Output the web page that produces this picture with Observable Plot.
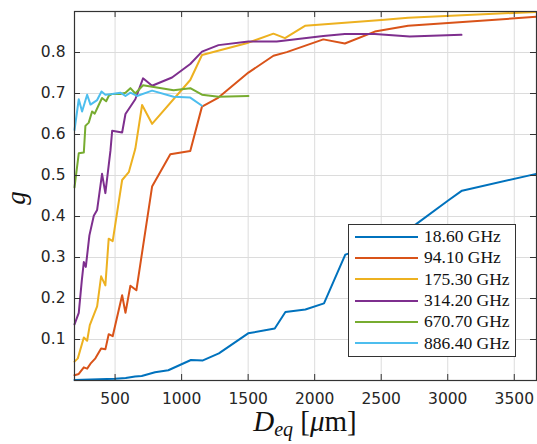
<!DOCTYPE html>
<html><head><meta charset="utf-8">
<script src="https://cdn.jsdelivr.net/npm/d3@7"></script>
<script src="https://cdn.jsdelivr.net/npm/@observablehq/plot@0.6"></script>
<style>
body{margin:0;background:#fff;}
#wrap{position:relative;width:537px;height:444px;}
#legend{position:absolute;left:348px;top:224px;width:168px;height:133px;border:1px solid #333;background:#fff;box-sizing:border-box;padding-top:1px;}
.row{display:flex;align-items:center;height:21.3px;font-family:"Liberation Serif","DejaVu Serif",serif;font-size:17.5px;color:#111;white-space:nowrap;}
.row .ln{width:63px;height:2px;margin-left:6px;margin-right:6px;}
</style></head><body><div id="wrap"><div id="legend"></div></div>
<script>
const seriesNames = ["18.60 GHz","94.10 GHz","175.30 GHz","314.20 GHz","670.70 GHz","886.40 GHz"];
const seriesColors = ["#0072BD","#D95319","#EDB120","#7E2F8E","#77AC30","#4DBEEE"];
const xTicks = [500,1000,1500,2000,2500,3000,3500];
const yTicks = [0.1,0.2,0.3,0.4,0.5,0.6,0.7,0.8];

const d18 = [195,500,580,650,700,800,900,1070,1160,1280,1500,1700,1780,1930,2070,2230,2600,2765,3003,3107,3665];
const g18 = [0.001,0.004,0.006,0.010,0.011,0.020,0.025,0.050,0.049,0.066,0.115,0.127,0.167,0.173,0.188,0.307,0.345,0.382,0.439,0.463,0.504];

const d94 = [195,227,265,290,315,352,395,427,452,482,553,578,615,660,778,915,1065,1153,1277,1502,1690,1790,2065,2227,2452,2702,3665];
const g94 = [0.013,0.016,0.032,0.029,0.041,0.054,0.078,0.076,0.113,0.108,0.208,0.165,0.231,0.220,0.473,0.552,0.560,0.668,0.690,0.751,0.792,0.801,0.832,0.822,0.851,0.865,0.887];

const d175 = [195,220,265,290,310,365,395,427,452,482,553,603,652,703,778,1065,1153,1502,1690,1777,1927,2502,2702,3665];
const g175 = [0.046,0.054,0.105,0.097,0.135,0.181,0.254,0.232,0.346,0.340,0.489,0.508,0.565,0.672,0.626,0.733,0.794,0.824,0.846,0.835,0.865,0.879,0.885,0.899];

const d314 = [195,227,250,265,280,307,340,365,402,427,465,478,553,578,652,710,778,928,1065,1153,1277,1502,1715,2065,2227,2452,2715,3103];
const g314 = [0.137,0.165,0.244,0.289,0.277,0.354,0.402,0.416,0.504,0.457,0.560,0.609,0.605,0.650,0.686,0.737,0.719,0.739,0.772,0.802,0.818,0.827,0.827,0.840,0.845,0.845,0.839,0.843];

const d670 = [195,227,265,277,302,327,347,377,402,433,452,478,540,578,615,652,710,940,1065,1153,1277,1502];
const g670 = [0.471,0.554,0.556,0.621,0.629,0.656,0.651,0.672,0.689,0.681,0.694,0.699,0.699,0.702,0.713,0.700,0.720,0.708,0.713,0.697,0.692,0.694];

const d886 = [195,227,252,290,315,365,398,427,478,540,578,615,665,778,940,1065,1153];
const g886 = [0.611,0.686,0.656,0.697,0.673,0.684,0.705,0.697,0.699,0.702,0.694,0.702,0.694,0.707,0.692,0.690,0.670];

const xs = [d18,d94,d175,d314,d670,d886];
const ys = [g18,g94,g175,g314,g670,g886];
const rows = [];
xs.forEach((dx,i)=>dx.forEach((d,j)=>rows.push({s:seriesNames[i],D:d,g:ys[i][j]})));

const W=537,H=444,mL=74,mR=1,mT=11,mB=64;
const innerW=W-mL-mR, innerH=H-mT-mB, tl=6, axc="#333";
const font='"DejaVu Sans",sans-serif';

const chart = Plot.plot({
  width:W,height:H,marginLeft:mL,marginRight:mR,marginTop:mT,marginBottom:mB,
  style:{fontFamily:font,fontSize:"15.5px",color:"#262626",background:"#fff",overflow:"visible"},
  x:{domain:[195,3667]},
  y:{domain:[0,0.9]},
  color:{domain:seriesNames,range:seriesColors},
  marks:[
    Plot.gridX(xTicks,{stroke:"#dcdcdc",strokeOpacity:1,strokeWidth:1}),
    Plot.gridY(yTicks,{stroke:"#dcdcdc",strokeOpacity:1,strokeWidth:1}),
    Plot.line(rows,{x:"D",y:"g",z:"s",stroke:"s",strokeWidth:2,strokeLinejoin:"round"}),
    Plot.tickX(xTicks,{x:d=>d,insetTop:innerH-tl,stroke:axc}),
    Plot.tickX(xTicks,{x:d=>d,insetBottom:innerH-tl,stroke:axc}),
    Plot.tickY(yTicks,{y:d=>d,insetRight:innerW-tl,stroke:axc}),
    Plot.tickY(yTicks,{y:d=>d,insetLeft:innerW-tl,stroke:axc}),
    Plot.axisX(xTicks,{tickSize:0,tickPadding:12,label:null,fontSize:15.5,tickFormat:d=>String(d)}),
    Plot.axisY(yTicks,{tickSize:0,tickPadding:9,label:null,fontSize:15.5,tickFormat:d=>d.toFixed(1)}),
    Plot.frame({stroke:axc,strokeWidth:1.2})
  ]
});
document.getElementById("wrap").prepend(chart);

const svg = d3.select(chart);
const serif='"Liberation Serif","DejaVu Serif",serif';
const xl = svg.append("text").attr("x",305).attr("y",431).attr("text-anchor","middle")
  .attr("font-family",serif).attr("font-size",29).attr("fill","#111");
xl.append("tspan").attr("font-style","italic").text("D");
xl.append("tspan").attr("font-style","italic").attr("font-size",20).attr("dy",5).text("eq");
xl.append("tspan").attr("dy",-5).text(" [");
xl.append("tspan").attr("font-style","italic").text("μ");
xl.append("tspan").text("m]");
svg.append("text").attr("transform","translate(25,198) rotate(-90)").attr("text-anchor","middle")
  .attr("font-family",serif).attr("font-style","italic")
  .attr("font-size",27).attr("fill","#111").text("g");

const lg = d3.select("#legend");
seriesNames.forEach((n,i)=>{
  const r = lg.append("div").attr("class","row");
  r.append("div").attr("class","ln").style("background",seriesColors[i]);
  r.append("span").text(n);
});
</script></body></html>
